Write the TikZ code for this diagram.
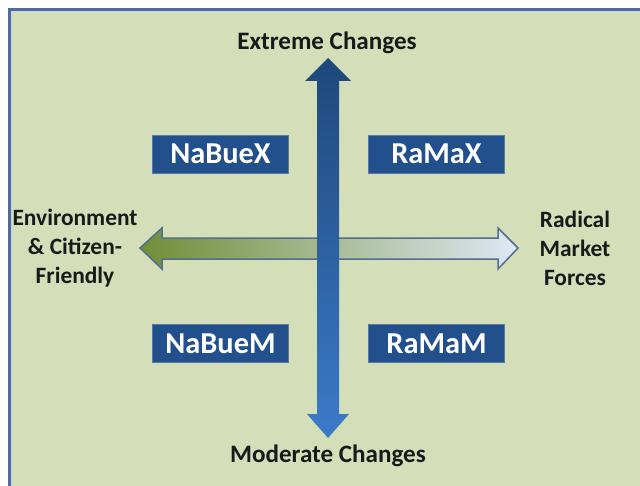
\documentclass[tikz,border=0pt]{standalone}
\usepackage{fontspec}
\setmainfont{Carlito}
\definecolor{bgreen}{RGB}{212,223,185}
\definecolor{frameblue}{RGB}{79,108,155}
\definecolor{boxblue}{RGB}{33,80,140}
\definecolor{boxedge}{RGB}{90,120,165}
\definecolor{vtop}{RGB}{30,72,122}
\definecolor{vbot}{RGB}{60,122,200}
\definecolor{hleft}{RGB}{112,142,55}
\definecolor{hmid}{RGB}{192,205,212}
\definecolor{hright}{RGB}{223,232,245}
\definecolor{hedge}{RGB}{80,110,145}
\definecolor{labeltext}{RGB}{25,25,25}
\tikzset{
  quadbox/.style={fill=boxblue, draw=boxedge, line width=0.8bp, minimum width=136bp, minimum height=38bp,
    inner sep=0pt, text=white, font=\fontsize{30.5}{36}\selectfont\bfseries},
  axislabel/.style={text=labeltext, font=\fontsize{23.5}{29}\selectfont\bfseries, align=center, inner sep=0pt},
  endlabel/.style={axislabel, font=\fontsize{25.2}{30}\selectfont\bfseries}
}
\begin{document}
\begin{tikzpicture}[x=1bp,y=-1bp]
\useasboundingbox (0,0) rectangle (640,486);
\fill[white] (0,0) rectangle (640,486);
\fill[bgreen] (9.5,9.5) rectangle (640,486);
\draw[frameblue, line width=2.5bp] (9.5,486) -- (9.5,9.5) -- (640,9.5);
\draw[white!70!frameblue, line width=0.8bp] (11.5,486) -- (11.5,11.5) -- (640,11.5);
% horizontal arrow
\shadedraw[left color=hleft, middle color=hmid, right color=hright, draw=hedge, line width=1.5bp]
  (140,248) -- (162,228) -- (162,238) -- (498,238) -- (498,228) -- (518,248)
  -- (498,269) -- (498,259) -- (162,259) -- (162,269) -- cycle;
% vertical arrow
\shade[top color=vtop, bottom color=vbot]
  (328,58) -- (351,81) -- (339,81) -- (339,414) -- (349,414) -- (328,438)
  -- (307,414) -- (317,414) -- (317,81) -- (305,81) -- cycle;
% labels
\node[endlabel] (top) at (327,43) {Extreme Changes};
\node[endlabel] (bottom) at (328,456) {Moderate Changes};
\node[axislabel] (left) at (75,248) {Environment\\\& Citizen-\\Friendly};
\node[axislabel] (right) at (575,248) {Radical\\Market\\Forces};
% boxes
\node[quadbox] (nx) at (220.5,154) {NaBueX};
\node[quadbox] (rx) at (436.5,154) {RaMaX};
\node[quadbox] (nm) at (220.5,343.5) {NaBueM};
\node[quadbox] (rm) at (436.5,343.5) {RaMaM};
\end{tikzpicture}
\end{document}
